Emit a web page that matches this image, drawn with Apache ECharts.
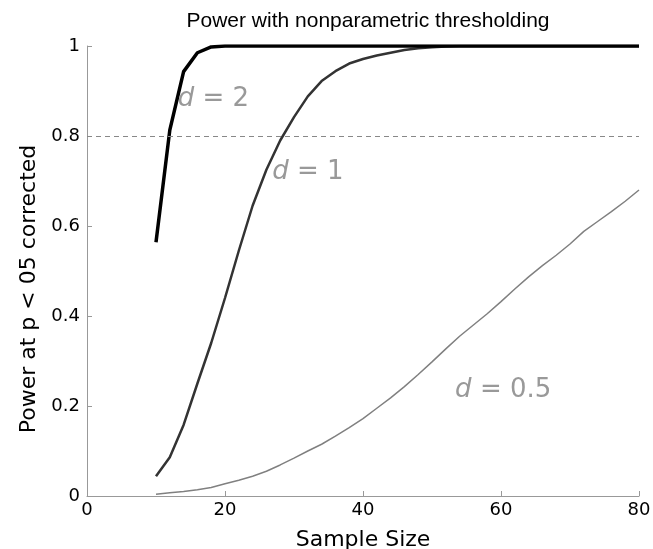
<!DOCTYPE html>
<html>
<head>
<meta charset="utf-8">
<script src="https://cdn.jsdelivr.net/npm/echarts@6/dist/echarts.min.js"></script>
<style>html,body{margin:0;padding:0;background:#fff;}#c{width:653px;height:549px;}</style>
</head>
<body>
<div id="c"></div>
<script>
const sampleSizes = [10,12,14,16,18,20,22,24,26,28,30,32,34,36,38,40,42,44,46,48,50,52,54,56,58,60,62,64,66,68,70,72,74,76,78,80];
const powerD2 = [0.564,0.813,0.943,0.985,0.998,1,1,1,1,1,1,1,1,1,1,1,1,1,1,1,1,1,1,1,1,1,1,1,1,1,1,1,1,1,1,1];
const powerD1 = [0.044,0.086,0.158,0.25,0.34,0.44,0.545,0.645,0.725,0.79,0.842,0.888,0.922,0.944,0.961,0.971,0.979,0.985,0.991,0.995,0.997,0.999,1,1,1,1,1,1,1,1,1,1,1,1,1,1];
const powerD05 = [0.004,0.007,0.010,0.014,0.019,0.027,0.035,0.044,0.055,0.069,0.084,0.100,0.115,0.133,0.152,0.172,0.195,0.218,0.243,0.270,0.298,0.327,0.355,0.380,0.405,0.432,0.460,0.487,0.512,0.535,0.560,0.588,0.610,0.632,0.655,0.680];
const xTicks = [0,20,40,60,80];
const yTicks = [0,0.2,0.4,0.6,0.8,1];
const threshold = 0.8;
const labelTexts = ['2','1','0.5'];
const labelAnchors = [[13.15,0.881],[26.85,0.72],[53.35,0.236]];

const pairs = vals => sampleSizes.map((n,i)=>[n, vals[i]]);
const annot = (i) => ({
  symbol: 'circle', symbolSize: 0, silent: true,
  data: [{ coord: labelAnchors[i], value: labelTexts[i] }],
  label: {
    show: true, position: [0,0], align: 'left', verticalAlign: 'middle',
    formatter: '{i|d}{t| = ' + labelTexts[i] + '}',
    rich: {
      i: { fontFamily: 'DejaVu Sans', fontStyle: 'italic', fontSize: 26, color: '#999' },
      t: { fontFamily: 'DejaVu Sans', fontSize: 26, color: '#999' }
    }
  }
});

const chart = echarts.init(document.getElementById('c'));
chart.setOption({
  animation: false,
  backgroundColor: '#fff',
  title: {
    text: 'Power with nonparametric thresholding',
    left: 363, top: 6, textAlign: 'center',
    textStyle: { fontFamily: "'Liberation Sans'", fontWeight: 'normal', fontSize: 21, color: '#000' }
  },
  grid: { left: 87, right: 14, top: 46, bottom: 53, containLabel: false, outerBoundsMode: 'none' },
  xAxis: {
    type: 'value', min: xTicks[0], max: xTicks[xTicks.length-1], interval: xTicks[1]-xTicks[0],
    name: 'Sample Size', nameLocation: 'middle', nameGap: 33,
    nameTextStyle: { fontFamily: 'DejaVu Sans', fontSize: 22, color: '#000' },
    axisLine: { show: true, lineStyle: { color: '#999', width: 1 } },
    axisTick: { show: true, inside: true, length: 5, lineStyle: { color: '#999' } },
    axisLabel: { fontFamily: 'DejaVu Sans', fontSize: 18, color: '#000', margin: 5 },
    splitLine: { show: false }
  },
  yAxis: {
    type: 'value', min: yTicks[0], max: yTicks[yTicks.length-1], interval: yTicks[1]-yTicks[0],
    name: 'Power at p < 05 corrected', nameLocation: 'middle', nameGap: 46,
    nameTextStyle: { fontFamily: 'DejaVu Sans', fontSize: 22, color: '#000', padding: [0, 36, 0, 0] },
    axisLine: { show: true, lineStyle: { color: '#999', width: 1 } },
    axisTick: { show: true, inside: true, length: 5, lineStyle: { color: '#999' } },
    axisLabel: { fontFamily: 'DejaVu Sans', fontSize: 18, color: '#000', margin: 7 },
    splitLine: { show: false }
  },
  series: [
    {
      name: 'd = 0.5', type: 'line', data: pairs(powerD05), showSymbol: false,
      lineStyle: { color: '#808080', width: 1.5 },
      markLine: {
        silent: true, symbol: 'none', label: { show: false },
        lineStyle: { color: '#888', type: [5,4], width: 1 },
        data: [{ yAxis: threshold }]
      },
      markPoint: annot(2)
    },
    {
      name: 'd = 1', type: 'line', data: pairs(powerD1), showSymbol: false,
      lineStyle: { color: '#333', width: 2.5 },
      markPoint: annot(1)
    },
    {
      name: 'd = 2', type: 'line', data: pairs(powerD2), showSymbol: false,
      lineStyle: { color: '#000', width: 3.5 },
      markPoint: annot(0)
    }
  ]
});
</script>
</body>
</html>
